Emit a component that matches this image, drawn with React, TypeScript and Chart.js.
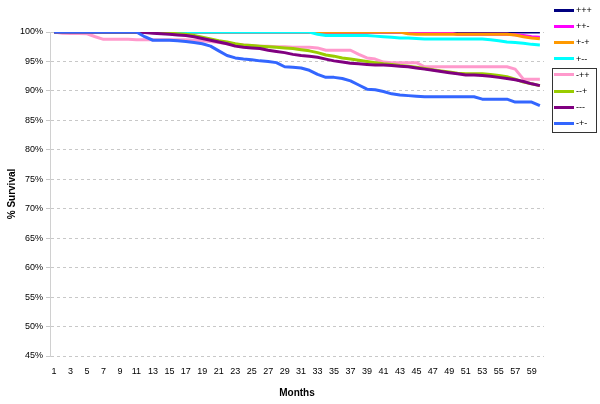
import React, { useEffect, useRef } from 'react';
import { Chart, registerables } from 'chart.js';
Chart.register(...registerables);

const months = ['1','2','3','4','5','6','7','8','9','10','11','12','13','14','15','16','17','18','19','20','21','22','23','24','25','26','27','28','29','30','31','32','33','34','35','36','37','38','39','40','41','42','43','44','45','46','47','48','49','50','51','52','53','54','55','56','57','58','59','60'];

const seriesNames = ['+++', '++-', '+-+', '+--', '-++', '--+', '---', '-+-'];
const seriesColors = ['#000080', '#FF00FF', '#FF9900', '#00FFFF', '#FF99CC', '#99CC00', '#800080', '#3366FF'];

const sPPP = [100,100,100,100,100,100,100,100,100,100,100,100,100,100,100,100,100,100,100,100,100,100,100,100,100,100,100,100,100,100,100,100,100,100,100,100,100,100,100,100,100,100,100,100,100,100,100,100,100,100,100,100,100,100,100,100,100,100,100,100];
const sPPM = [100,100,100,100,100,100,100,100,100,100,100,100,100,100,100,100,100,100,100,100,100,100,100,100,100,100,100,100,100,100,100,100,100,100,100,100,100,100,100,100,100,100,100,99.85,99.85,99.85,99.85,99.85,99.85,99.6,99.6,99.6,99.6,99.6,99.6,99.6,99.55,99.4,99.2,99.1];
const sPMP = [100,100,100,100,100,100,100,100,100,100,100,100,100,100,100,100,100,100,100,100,100,100,100,100,100,100,100,100,100,100,100,100,100,100,100,100,100,100,100,100,100,100,100,99.7,99.6,99.6,99.6,99.6,99.6,99.6,99.6,99.6,99.6,99.6,99.6,99.6,99.5,99.2,99.0,98.85];
const sPMM = [100,100,100,100,100,100,100,100,100,100,100,100,100,100,100,100,100,100,100,100,100,100,100,100,100,100,100,100,100,100,100,100,99.6,99.4,99.4,99.4,99.4,99.4,99.4,99.3,99.2,99.1,99.0,99.0,98.9,98.8,98.8,98.8,98.8,98.8,98.8,98.8,98.8,98.7,98.5,98.3,98.2,98.1,97.9,97.8];
const sMPP = [100,99.8,99.75,99.75,99.7,99.2,98.75,98.75,98.75,98.75,98.7,98.7,98.7,98.7,98.7,98.7,98.7,98.6,98.5,98.4,98.2,98.0,97.9,97.8,97.7,97.6,97.6,97.5,97.5,97.4,97.4,97.4,97.3,96.9,96.9,96.9,96.9,96.2,95.6,95.4,94.9,94.8,94.8,94.8,94.8,94.1,94.1,94.1,94.1,94.1,94.1,94.1,94.1,94.1,94.1,94.1,93.7,92.0,92.0,92.0];
const sMMP = [100,100,100,100,100,100,100,100,100,100,100,100,99.95,99.9,99.8,99.7,99.6,99.4,99.1,98.8,98.5,98.3,98.0,97.8,97.7,97.6,97.5,97.4,97.3,97.2,97.0,96.8,96.5,96.1,95.9,95.6,95.4,95.2,95.0,94.8,94.6,94.5,94.3,94.2,94.0,93.8,93.6,93.4,93.2,93.0,92.9,92.9,92.9,92.8,92.6,92.4,92.0,91.5,91.2,90.9];
const sMMM = [100,100,100,100,100,100,100,100,100,100,100,99.9,99.8,99.7,99.6,99.5,99.4,99.2,98.9,98.6,98.3,98.0,97.6,97.4,97.3,97.2,96.9,96.7,96.5,96.2,96.0,95.9,95.7,95.4,95.1,94.9,94.7,94.6,94.5,94.4,94.4,94.3,94.2,94.1,93.9,93.7,93.5,93.3,93.1,92.9,92.7,92.7,92.6,92.5,92.3,92.1,91.9,91.6,91.2,90.9];
const sMPM = [100,100,100,100,100,100,100,100,100,100,100,99.2,98.6,98.6,98.6,98.5,98.4,98.2,98.0,97.6,96.8,96.0,95.6,95.4,95.3,95.1,95.0,94.8,94.1,94.0,93.9,93.5,92.8,92.3,92.3,92.1,91.7,91.0,90.3,90.2,89.9,89.5,89.3,89.2,89.1,89.0,89.0,89.0,89.0,89.0,89.0,89.0,88.6,88.6,88.6,88.6,88.1,88.1,88.1,87.5];

const yMin = 45;
const yMax = 100;
const yStep = 5;

const FONT = '"Liberation Sans", Arial, sans-serif';

export default function App() {
  const ref = useRef<HTMLCanvasElement>(null);
  useEffect(() => {
    document.body.style.margin = '0';
    const allSeries = [sPPP, sPPM, sPMP, sPMM, sMPP, sMMP, sMMM, sMPM];
    const chart = new Chart(ref.current as HTMLCanvasElement, {
      type: 'line',
      data: {
        labels: months,
        datasets: allSeries.map((d, i) => ({
          label: seriesNames[i],
          data: d,
          borderColor: seriesColors[i],
          backgroundColor: seriesColors[i],
          borderWidth: 3,
          pointRadius: 0,
          tension: 0,
          fill: false,
          order: allSeries.length - i,
          borderJoinStyle: 'round' as const,
        })),
      },
      options: {
        responsive: false,
        animation: false,
        layout: { padding: { top: 32, right: 56, bottom: 0, left: 0 } },
        plugins: { legend: { display: false }, tooltip: { enabled: false } },
        scales: {
          x: {
            type: 'category',
            offset: true,
            grid: { display: false, drawTicks: false },
            border: { display: false },
            ticks: {
              autoSkip: false,
              maxRotation: 0,
              minRotation: 0,
              padding: 10,
              color: '#000',
              font: { family: FONT, size: 9 },
              callback: (_v: any, i: number) => (i % 2 === 0 ? months[i] : ''),
            },
            title: {
              display: true,
              text: 'Months',
              color: '#000',
              font: { family: FONT, size: 10, weight: 'bold' },
              padding: { top: 0, bottom: 5 },
            },
            afterFit: (s: any) => { s.height = 48; },
          },
          y: {
            min: yMin,
            max: yMax,
            ticks: {
              stepSize: yStep,
              padding: 3,
              color: '#000',
              font: { family: FONT, size: 9 },
              callback: (v: any) => v + '%',
            },
            grid: { color: '#c8c8c8', tickLength: 4, tickColor: '#c8c8c8' },
            border: { display: true, color: '#d0d0d0', dash: [3, 3] },
            title: {
              display: true,
              text: '% Survival',
              color: '#000',
              font: { family: FONT, size: 10, weight: 'bold' },
              padding: { top: 6, bottom: 0 },
            },
            afterFit: (s: any) => { s.width = 50; },
          },
        },
      },
    } as any);
    return () => chart.destroy();
  }, []);

  const item = (i: number) => (
    <div
      key={i}
      style={{
        position: 'absolute',
        left: 554,
        top: 10 + 16.2 * i - 6,
        height: 12,
        display: 'flex',
        alignItems: 'center',
        fontFamily: FONT,
        fontSize: 9,
        color: '#000',
        whiteSpace: 'nowrap',
      }}
    >
      <span style={{ display: 'inline-block', width: 20, height: 3, background: seriesColors[i] }} />
      <span style={{ marginLeft: 2 }}>{seriesNames[i]}</span>
    </div>
  );

  return (
    <div style={{ position: 'absolute', left: 0, top: 0, width: 600, height: 404, background: '#fff' }}>
      <canvas ref={ref} width={600} height={404} style={{ display: 'block' }} />
      <div style={{ position: 'absolute', left: 552, top: 68, width: 43, height: 63, border: '1px solid #333' }} />
      {seriesNames.map((_, i) => item(i))}
    </div>
  );
}
